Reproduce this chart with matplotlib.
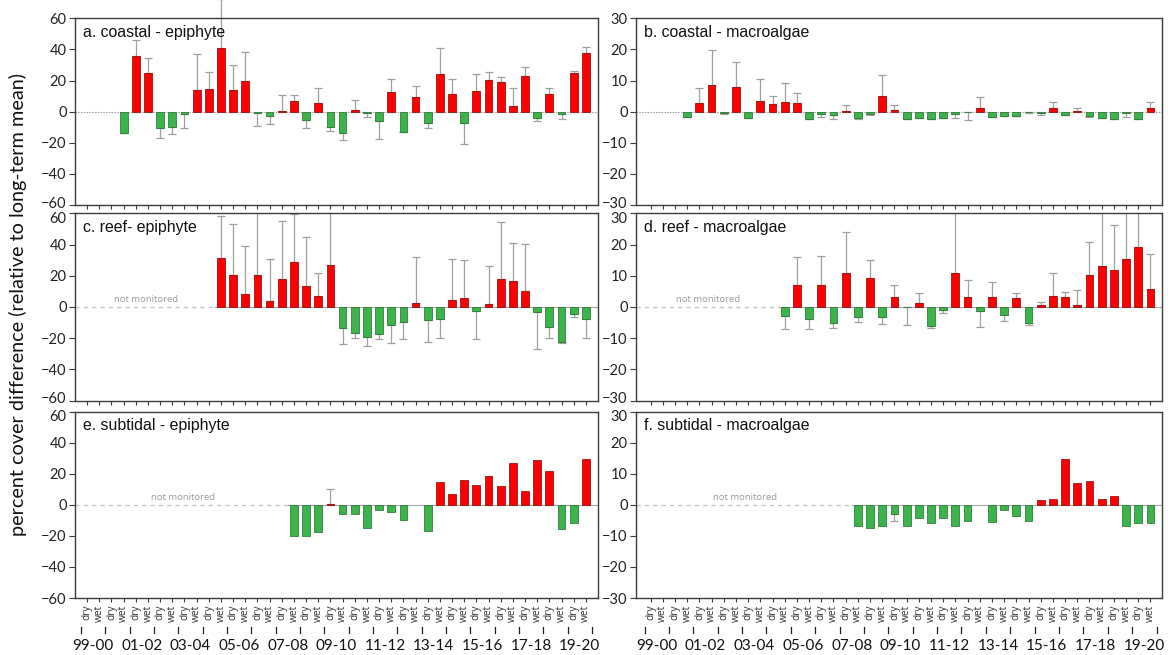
import numpy as np
import matplotlib.pyplot as plt
from matplotlib.transforms import blended_transform_factory, ScaledTranslation

nan = np.nan

years = ['99-00', '00-01', '01-02', '02-03', '03-04', '04-05', '05-06', '06-07',
         '07-08', '08-09', '09-10', '10-11', '11-12', '12-13', '13-14', '14-15',
         '15-16', '16-17', '17-18', '18-19', '19-20']
seasons = ['dry', 'wet'] * len(years)

# a. coastal - epiphyte
a_vals = [nan, nan, nan, -13.5, 36.0, 24.6, -10.3, -9.9, -1.7, 13.7, 14.8, 41.1, 13.9, 19.7,
          -1.1, -3.0, 0.3, 7.1, -5.6, 5.6, -9.9, -13.5, 1.3, -0.6, -6.0, 12.9, -12.9, 9.2,
          -7.1, 24.2, 11.4, -7.1, 13.5, 20.1, 19.1, 3.9, 23.1, -3.9, 11.1, -1.7, 24.9, 37.5]
a_err = [nan, nan, nan, 0, 10.0, 9.7, 6.4, 4.2, 8.6, 23.2, 10.9, 31.0, 15.9, 18.9,
         7.9, 4.9, 10.2, 3.6, 5.1, 9.4, 2.5, 4.9, 6.4, 3.0, 11.8, 8.3, 0, 7.5,
         3.6, 16.5, 9.4, 13.5, 10.9, 5.6, 3.2, 11.5, 5.4, 2.1, 3.9, 3.0, 1.5, 4.3]

# b. coastal - macroalgae
b_vals = [nan, nan, nan, -1.8, 2.8, 8.6, -0.3, 7.9, -1.9, 3.5, 2.4, 3.0, 2.7, -2.4,
          -0.9, -1.0, 0.2, -2.0, -0.9, 5.0, 0.5, -2.4, -2.0, -2.4, -2.2, -0.9, -0.2, 1.1,
          -1.8, -1.4, -1.4, -0.2, -0.5, 1.3, -1.0, 0.3, -1.4, -2.2, -2.4, -0.3, -2.4, 1.1]
b_err = [nan, nan, nan, 0, 4.7, 11.2, 0.6, 8.2, 0.2, 7.1, 2.7, 6.1, 3.3, 0,
         0.9, 1.5, 1.8, 0.4, 0.3, 6.7, 1.5, 0, 0, 0, 0, 1.2, 2.4, 3.5,
         0, 0, 0, 0.3, 0.5, 1.7, 0.2, 1.0, 0.3, 0, 0, 1.5, 0, 2.1]

# c. reef - epiphyte
c_vals = [nan] * 11 + [31.1, 20.4, 8.1, 20.4, 3.9, 18.0, 28.9, 13.7, 7.3, 26.6,
                       -13.7, -16.5, -19.1, -17.6, -11.8, -9.9, 2.6, -8.1, -7.5, 4.5,
                       5.6, -2.6, 1.7, 18.0, 16.9, 10.1, -3.2, -12.6, -22.5, -4.7, -7.5]
c_err = [nan] * 11 + [26.9, 32.7, 30.7, 45.0, 26.5, 37.3, 30.7, 31.3, 14.3, 40.0,
                      9.9, 3.2, 6.2, 2.8, 11.1, 10.7, 29.1, 14.2, 12.4, 25.9,
                      24.2, 18.2, 24.4, 36.2, 24.2, 30.0, 24.0, 7.1, 0.4, 1.5, 12.2]

# d. reef - macroalgae
d_vals = [nan] * 11 + [-2.9, 7.1, -4.0, 6.9, -5.0, 11.0, -3.3, 9.3, -3.3, 3.3,
                       -0.1, 1.4, -6.2, -0.9, 11.0, 3.3, -1.3, 3.2, -2.5, 2.9,
                       -5.0, 0.5, 3.4, 3.1, 0.5, 10.1, 13.1, 11.9, 15.3, 19.2, 5.7]
d_err = [nan] * 11 + [4.1, 9.0, 3.2, 9.4, 1.7, 13.0, 1.5, 5.7, 2.2, 3.7,
                      5.6, 3.0, 0.5, 1.0, 22.0, 5.3, 5.1, 4.9, 2.0, 1.6,
                      0.7, 1.2, 7.4, 1.7, 5.0, 10.8, 20.0, 14.3, 18.0, 15.0, 11.4]

# e. subtidal - epiphyte
e_vals = [nan] * 17 + [-19.9, -20.1, -17.8, 0.3, -5.8, -5.8, -15.0, -3.2, -4.5, -9.6,
                       nan, -17.1, 15.0, 6.9, 15.9, 13.1, 18.4, 12.4, 27.2, 8.6,
                       28.9, 21.6, -15.4, -11.4, 29.4]
e_err = [nan] * 20 + [10.2] + [nan] * 21

# f. subtidal - macroalgae
f_vals = [nan] * 17 + [-6.7, -7.5, -6.7, -2.9, -6.7, -4.3, -6.0, -4.2, -6.7, -5.3,
                       nan, -5.6, -1.8, -3.5, -5.1, 1.6, 1.9, 14.7, 7.1, 7.8,
                       1.9, 2.9, -6.7, -6.0, -5.8]
f_err = [nan] * 20 + [2.2] + [nan] * 21

titles = ['a. coastal - epiphyte', 'b. coastal - macroalgae',
          'c. reef- epiphyte', 'd. reef - macroalgae',
          'e. subtidal - epiphyte', 'f. subtidal - macroalgae']
panel_vals = [a_vals, b_vals, c_vals, d_vals, e_vals, f_vals]
panel_err = [a_err, b_err, c_err, d_err, e_err, f_err]
first_monitored = [None, None, 11, 11, 17, 17]   # index of first monitored season
ylims = [60, 30, 60, 30, 60, 30]
ysteps = [20, 10, 20, 10, 20, 10]

RED = '#ff0000'
RED_EDGE = '#8b0000'
GREEN = '#3cb44b'
GREEN_EDGE = '#1f6b2a'
FRAME = '#3c3c3c'
TICKFONT = 'Lato'

plt.rcParams['font.family'] = ['Lato', 'DejaVu Sans']

fig = plt.figure(figsize=(11.68, 6.55), dpi=100)
W, H = 1168.0, 655.0
col_x = [(75, 523), (636, 526)]
row_y = [(18.3, 205.0), (213.3, 400.5), (411.7, 598.0)]
col_xlim = [(-1.0, 42.0), (-1.2, 41.95)]

x = np.arange(len(seasons))

for k in range(6):
    r, c = divmod(k, 2)
    x0, w = col_x[c]
    top, bot = row_y[r]
    ax = fig.add_axes([x0 / W, 1 - bot / H, w / W, (bot - top) / H])
    vals = np.array(panel_vals[k], dtype=float)
    errs = np.array(panel_err[k], dtype=float)
    lim = ylims[k]
    ax.set_xlim(*col_xlim[c])
    ax.set_ylim(-lim, lim)
    xl = ax.get_xlim()

    # zero line / not monitored
    fm = first_monitored[k]
    if fm is None:
        ax.plot([xl[0], xl[1]], [0, 0], color='#a8a8a8', lw=0.8,
                linestyle=(0, (1.5, 1)), zorder=1)
    else:
        ax.plot([xl[0], fm - 0.5], [0, 0], color='#c8c8c8', lw=1.0,
                linestyle=(0, (3, 3)), zorder=1)
        ax.plot([fm - 0.5, xl[1]], [0, 0], color='#a8a8a8', lw=0.8, zorder=1)
        xt = (xl[0] + fm - 0.5) / 2.0 + 0.1
        ax.text(xt, lim * 0.035, 'not monitored', ha='center', va='bottom',
                fontsize=6.8, color='#9a9a9a', family='Open Sans')

    ok = np.isfinite(vals)
    colors = [RED if v > 0 else GREEN for v in vals[ok]]
    edges = [RED_EDGE if v > 0 else GREEN_EDGE for v in vals[ok]]
    ax.bar(x[ok], vals[ok], width=0.64, color=colors, edgecolor=edges,
           linewidth=0.5, zorder=3)

    eok = ok & np.isfinite(errs)
    ev = vals[eok]
    ee = errs[eok]
    lower = np.where(ev < 0, ee, 0.0)
    upper = np.where(ev >= 0, ee, 0.0)
    eb = ax.errorbar(x[eok], ev, yerr=[lower, upper], fmt='none',
                     ecolor='#a0a0a0', elinewidth=0.9, capsize=2.8,
                     capthick=0.9, zorder=2)
    if k == 0:
        for art in list(eb.lines[1]) + list(eb.lines[2]):
            art.set_clip_on(False)

    # frame
    for sp in ax.spines.values():
        sp.set_color(FRAME)
        sp.set_linewidth(1.0)

    ax.set_yticks(np.arange(-lim, lim + 1, ysteps[k]))
    ax.tick_params(axis='y', direction='out', length=4, width=0.8,
                   color=FRAME, labelsize=10.5, pad=2, labelcolor='#222222')
    ax.set_xticks(x)
    ax.tick_params(axis='x', direction='out', length=3, width=0.8, color=FRAME)
    ylabels = ax.get_yticklabels()
    for lab in ylabels:
        lab.set_family(TICKFONT)
    # nudge the end labels apart where panels meet
    if r < 2:
        ylabels[0].set_transform(ylabels[0].get_transform() +
                                 ScaledTranslation(0, 3 / 100, fig.dpi_scale_trans))
    if r > 0:
        ylabels[-1].set_transform(ylabels[-1].get_transform() +
                                  ScaledTranslation(0, -4 / 100, fig.dpi_scale_trans))

    if r == 2:
        ax.set_xticklabels(seasons, rotation=90, fontsize=7.3, color='#333333',
                           family='Open Sans')
        ax.tick_params(axis='x', pad=1.5)
        trans = blended_transform_factory(ax.transData, ax.transAxes)
        hpx = bot - top
        for j in range(len(years) + 1):
            xs = 2 * j - 0.5
            ax.plot([xs, xs], [-29 / hpx, -35 / hpx], color='#222222', lw=0.9,
                    transform=trans, clip_on=False)
        for j, yr in enumerate(years):
            if j % 2 == 0:
                ax.text(2 * j + 0.5, -48 / hpx, yr, transform=trans,
                        ha='center', va='center', fontsize=11,
                        family=TICKFONT, color='#111111')
    else:
        ax.set_xticklabels([])

    ax.text(0.015, 0.965, titles[k], transform=ax.transAxes, ha='left',
            va='top', fontsize=11.4, family='Liberation Sans', color='#111111')

fig.text(18 / W, 1 - 305 / H, 'percent cover difference (relative to long-term mean)',
         rotation=90, ha='center', va='center', fontsize=14.3, family=TICKFONT,
         color='#111111')

fig.savefig('out.png', dpi=100)
